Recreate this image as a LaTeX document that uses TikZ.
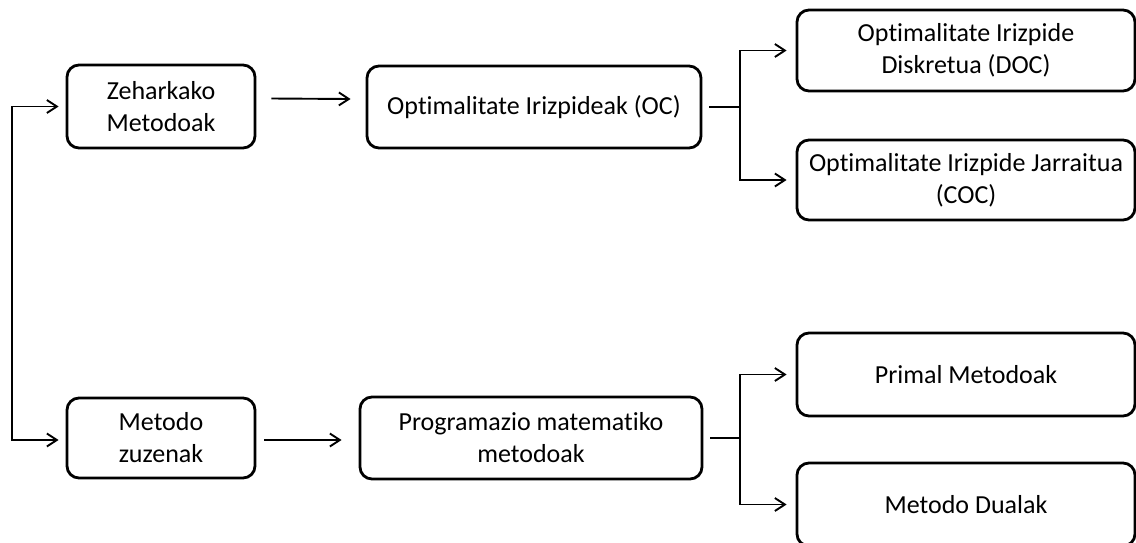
\documentclass[tikz,border=0pt]{standalone}
\usepackage{fontspec}
\setmainfont{Carlito}[Ligatures={NoCommon}]
\usetikzlibrary{arrows.meta,calc}

\tikzset{
  box/.style={draw=black, line width=2.8pt, rounded corners=12pt, fill=white,
    align=center, inner sep=0pt,
    font=\fontsize{26}{32}\selectfont},
  link/.style={draw=black, line width=1.9pt},
  tip/.style={-{Straight Barb[length=10pt,width=13pt,line width=1.9pt]}},
}

\begin{document}
\begin{tikzpicture}[x=1pt, y=-1pt]
  \useasboundingbox (0,0) rectangle (1136,542);
  \clip (0,0) rectangle (1136,542);

  % boxes
  \node[box, minimum width=188pt, minimum height=83pt] (zh) at (161,106.5) {Zeharkako\\Metodoak};
  \node[box, minimum width=334pt, minimum height=82pt] (oc) at (534,107) {Optimalitate Irizpideak (OC)};
  \node[box, minimum width=338pt, minimum height=81pt] (doc) at (966,50.5) {Optimalitate Irizpide\\Diskretua (DOC)};
  \node[box, minimum width=338pt, minimum height=80pt] (coc) at (966,180) {Optimalitate Irizpide Jarraitua\\(COC)};

  \node[box, minimum width=188pt, minimum height=80pt] (mz) at (161,438) {Metodo\\zuzenak};
  \node[box, minimum width=342pt, minimum height=82pt] (pm) at (531,438) {Programazio matematiko\\metodoak};
  \node[box, minimum width=338pt, minimum height=83pt] (pr) at (966,374.5) {Primal Metodoak};
  \node[box, minimum width=338pt, minimum height=83pt] (du) at (966,504.5) {Metodo Dualak};

  % left bracket feeding both method families
  \coordinate (lft) at (12,270);
  \draw[link, tip] (lft) |- ($(zh.west)+(-7,0)$);
  \draw[link, tip] (lft) |- ($(mz.west)+(-7,2)$);

  % horizontal steps
  \draw[link, tip] ($(zh.east)+(15,-8)$) -- ($(oc.west)+(-15,-8)$);
  \draw[link, tip] ($(mz.east)+(8,2)$) -- ($(pm.west)+(-17,2)$);

  % upper fork
  \coordinate (fa) at (740,107);
  \draw[link] ($(oc.east)+(7,0)$) -- (fa);
  \draw[link, tip] (fa) |- ($(doc.west)+(-9,0)$);
  \draw[link, tip] (fa) |- ($(coc.west)+(-9,0)$);

  % lower fork
  \coordinate (fb) at (740,438);
  \draw[link] ($(pm.east)+(7,0)$) -- (fb);
  \draw[link, tip] (fb) |- ($(pr.west)+(-9,0)$);
  \draw[link, tip] (fb) |- ($(du.west)+(-9,0)$);
\end{tikzpicture}
\end{document}
